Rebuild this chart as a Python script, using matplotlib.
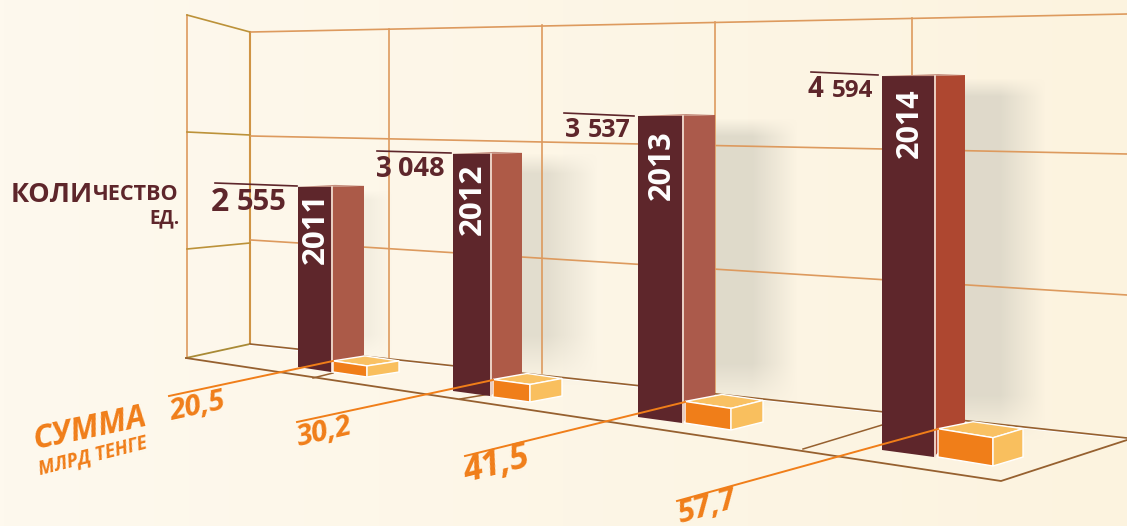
import matplotlib
matplotlib.use("Agg")
import matplotlib.pyplot as plt
import numpy as np
from matplotlib.patches import Polygon

# data from the chart
years = [2011, 2012, 2013, 2014]
counts = [2555, 3048, 3537, 4594]
amounts = [20.5, 30.2, 41.5, 57.7]
amount_labels = ["20,5", "30,2", "41,5", "57,7"]

# perspective layout, in image pixels, one entry per year
front_left = [298, 453, 638, 882]
front_right = [331, 490, 682, 934]
side_right = [364, 522, 715, 965]
base_left = [367, 391, 417, 450]
base_right = [372, 396, 423, 457]
side_base = [355, 374, 395, 422]
px_per_count = [0.0705, 0.0778, 0.0851, 0.0814]
side_colors = ["#AB5A48", "#AE5A47", "#AB5A4B", "#AE4730"]
year_offset = [6, 10, 14, 12]
year_size = [22.5, 22.5, 22, 22]

box_left = [333, 493, 685, 938]
box_mid = [367, 530, 731, 993]
box_right = [399, 562, 763, 1023]
box_base_left = [372, 397, 423, 457]
box_base_mid = [377, 402, 430, 466]
box_base_right = [372, 396, 422, 457]
box_back_x = [365, 527, 722, 973]
box_depth = [5, 6, 7, 7]
px_per_amount = [0.54, 0.58, 0.52, 0.49]

DARK = "#5E262B"
ORANGE = "#F07E19"
LIGHT_ORANGE = "#F9BF5E"
WALL = "#DD9A5E"
GOLD = "#BC9239"
FLOOR = "#96602F"
FONT = "Open Sans"


def to_rgb(h):
    return np.array(matplotlib.colors.to_rgb(h))


def soft_shadow(ax, x0, y0, x1, y1, blur, alpha=1.0):
    # blurred grey block behind a bar
    xs = np.arange(x0, x1)
    ys = np.arange(y0, y1)
    ramp_x = np.clip((x1 - xs) / blur, 0, 1)
    ramp_y = np.clip((ys - y0) / (blur * 0.4), 0, 1) * np.clip((y1 - ys) / blur, 0, 1)
    rgba = np.zeros((len(ys), len(xs), 4))
    rgba[..., :3] = to_rgb("#DCD7C8")
    rgba[..., 3] = alpha * np.outer(ramp_y, ramp_x)
    ax.imshow(rgba, extent=(x0, x1, y1, y0), aspect="auto", zorder=1)


fig = plt.figure(figsize=(11.27, 5.26), dpi=100)
ax = fig.add_axes([0, 0, 1, 1])
ax.set_axis_off()

# background
grad = np.linspace(0, 1, 256).reshape(1, -1, 1)
bg = to_rgb("#FEF9EE") * (1 - grad) + to_rgb("#FCF3DF") * grad
ax.imshow(bg, extent=(0, 1127, 526, 0), aspect="auto", zorder=0)

# shadows
soft_shadow(ax, 364, 190, 392, 358, 24, 0.3)
soft_shadow(ax, 522, 153, 597, 385, 50, 0.8)
soft_shadow(ax, 715, 118, 797, 408, 45, 0.9)
soft_shadow(ax, 965, 78, 1045, 440, 45, 0.9)

# side wall
ax.plot([187, 187], [15, 358], color=WALL, lw=1.2, zorder=2)
ax.plot([250, 250], [32, 344], color="#CF9445", lw=1.5, zorder=2)
ax.plot([187, 250], [15, 32], color=GOLD, lw=1.2, zorder=2)
ax.plot([187, 250], [132, 135], color=GOLD, lw=1.2, zorder=2)
ax.plot([187, 250], [249, 243], color=GOLD, lw=1.2, zorder=2)
ax.plot([186, 250], [358, 344], color="#A98A35", lw=1.3, zorder=2)

# back wall
ax.plot([251, 1127], [32, 14], color=WALL, lw=1.2, zorder=2)
ax.plot([251, 1127], [136, 154], color=WALL, lw=1.2, zorder=2)
ax.plot([251, 1127], [240, 295], color=WALL, lw=1.2, zorder=2)
for x, y0, y1 in [(389, 29, 359), (542, 25, 373), (715, 22, 393), (912, 18, 415)]:
    ax.plot([x, x], [y0, y1], color=WALL, lw=1.2, zorder=2)

# floor
ax.plot([250, 1127], [345, 439], color="#FFFFFF", lw=1.2, zorder=2)
ax.plot([250, 1127], [344, 438], color=FLOOR, lw=1.2, zorder=2)
ax.plot([186, 1001, 1127], [358, 481, 440], color=FLOOR, lw=1.3, zorder=2)
ax.plot([313, 333], [378, 373], color=FLOOR, lw=1.1, zorder=2)
ax.plot([460, 490], [399, 394], color=FLOOR, lw=1.1, zorder=2)
ax.plot([803, 882], [449, 425], color=FLOOR, lw=1.1, zorder=2)

# count bars
for i, year in enumerate(years):
    top = base_left[i] - counts[i] * px_per_count[i]
    front = [(front_left[i], top), (front_right[i], top),
             (front_right[i], base_right[i]), (front_left[i], base_left[i])]
    side = [(front_right[i], top), (side_right[i], top - 1),
            (side_right[i], side_base[i]), (front_right[i], base_right[i])]
    roof = [(front_left[i], top), (front_right[i], top), (side_right[i], top - 1),
            (front_right[i] + 4, top - 2)]
    ax.add_patch(Polygon(roof, facecolor="#C58F7F", edgecolor="none", zorder=3))
    ax.add_patch(Polygon(side, facecolor=side_colors[i], edgecolor="none", zorder=3))
    ax.add_patch(Polygon(front, facecolor=DARK, edgecolor="none", zorder=3))
    ax.plot([front_right[i] + 0.5, front_right[i] + 0.5], [top, base_right[i]], color="#F5E6DA", lw=1.2, zorder=4)
    ax.text((front_left[i] + front_right[i]) / 2 + 1.5, top + year_offset[i], str(year), color="white",
            rotation=90, ha="center", va="top", fontsize=year_size[i], fontweight="bold", family=FONT, zorder=5)

# amount boxes
for i in range(len(years)):
    h = amounts[i] * px_per_amount[i]
    tl = box_base_left[i] - h
    tm = box_base_mid[i] - h
    tr = box_base_right[i] - h
    back = tl - box_depth[i]
    ax.add_patch(Polygon([(box_left[i], tl), (box_mid[i], tm), (box_right[i], tr), (box_back_x[i], back)],
                         facecolor="#F9C163", edgecolor="white", lw=1, zorder=6))
    ax.add_patch(Polygon([(box_left[i], tl), (box_mid[i], tm), (box_mid[i], box_base_mid[i]), (box_left[i], box_base_left[i])],
                         facecolor=ORANGE, edgecolor="white", lw=1, zorder=6))
    ax.add_patch(Polygon([(box_mid[i], tm), (box_right[i], tr), (box_right[i], box_base_right[i]), (box_mid[i], box_base_mid[i])],
                         facecolor=LIGHT_ORANGE, edgecolor="white", lw=1, zorder=6))

# leaders and labels for amounts
amount_lines = [((169, 396), (333, 361)), ((297, 422), (493, 380)),
                ((465, 456), (685, 402)), ((677, 501), (938, 429))]
amount_pos = [(172, 420), (299, 446), (466, 482), (680, 523)]
amount_rot = [12, 13, 14, 16]
amount_size = [21, 21, 25, 22.5]
for i, label in enumerate(amount_labels):
    (x0, y0), (x1, y1) = amount_lines[i]
    ax.plot([x0, x1], [y0, y1], color=ORANGE, lw=1.4, zorder=7)
    ax.text(amount_pos[i][0], amount_pos[i][1], label, color=ORANGE, fontsize=amount_size[i],
            fontweight="bold", style="italic", family=FONT, rotation=amount_rot[i],
            rotation_mode="anchor", ha="left", va="baseline", zorder=7)

# leaders and labels for counts
count_lines = [((215, 183), (297, 186)), ((377, 151), (451, 153)),
               ((564, 113), (634, 116)), ((811, 72), (878, 75))]
thousands_pos = [(211, 211), (376, 177), (565, 137), (808, 97)]
rest_pos = [(237, 210), (398, 176), (588, 137), (832, 97)]
thousands_size = [23, 20, 19, 20]
rest_size = [21, 19.5, 18, 17.5]
for i, c in enumerate(counts):
    (x0, y0), (x1, y1) = count_lines[i]
    ax.plot([x0, x1], [y0, y1], color=DARK, lw=1.2, zorder=7)
    ax.text(thousands_pos[i][0], thousands_pos[i][1], str(c // 1000), color=DARK, family=FONT,
            fontweight="bold", fontsize=thousands_size[i], ha="left", va="baseline", zorder=7)
    ax.text(rest_pos[i][0], rest_pos[i][1], f"{c % 1000:03d}", color=DARK, family=FONT,
            fontweight="bold", fontsize=rest_size[i], ha="left", va="baseline", zorder=7)

# axis captions
ax.text(11, 202, "КОЛИ", color=DARK, family=FONT, fontweight="bold", fontsize=19.5, ha="left", va="baseline", zorder=7)
ax.text(93, 200, "ЧЕСТВО", color=DARK, family=FONT, fontweight="bold", fontsize=15.6, ha="left", va="baseline", zorder=7)
ax.text(180, 223, "ЕД.", color=DARK, family=FONT, fontweight="bold", fontsize=13.5, ha="right", va="baseline", zorder=7)
ax.text(35, 449, "СУММА", color=ORANGE, family=FONT, fontweight="bold", style="italic", fontsize=23,
        rotation=12, rotation_mode="anchor", ha="left", va="baseline", zorder=7)
ax.text(40, 474, "МЛРД ТЕНГЕ", color=ORANGE, family=FONT, fontweight="bold", style="italic", fontsize=13.5,
        rotation=14, rotation_mode="anchor", ha="left", va="baseline", zorder=7)

ax.set_xlim(0, 1127)
ax.set_ylim(526, 0)
fig.savefig("out.png", dpi=100)
